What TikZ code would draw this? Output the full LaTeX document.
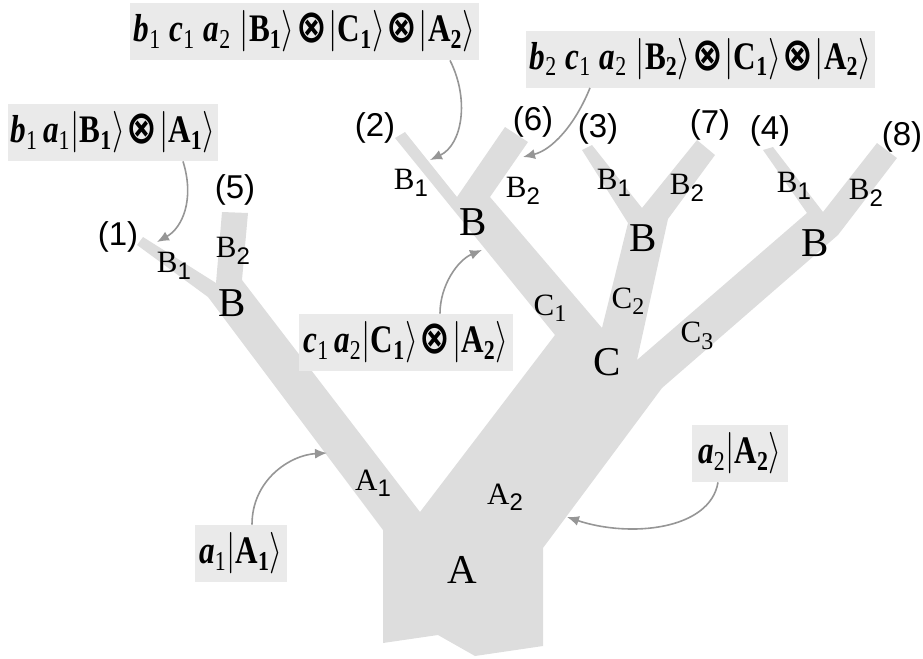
\documentclass[tikz,border=0pt]{standalone}
\usepackage{fontspec}
\usepackage{amsmath}
\usepackage{graphicx}
\setmainfont{Liberation Serif}
\newfontfamily\arialfont{Liberation Sans}
\newfontfamily\symfont{DejaVu Sans}
\usetikzlibrary{arrows.meta}

\definecolor{treegray}{RGB}{221,221,221}
\definecolor{boxgray}{RGB}{234,234,234}
\definecolor{arrowgray}{RGB}{150,150,150}

\newcommand{\amp}[2]{\textbf{\textit{#1}}\textsubscript{#2}}
\newcommand{\kt}[2]{$\lvert$\textbf{#1\textsubscript{#2}}$\rangle$}
\newcommand{\ox}{\kern1pt\raisebox{-0.5pt}{\symfont\bfseries\fontsize{23}{23}\selectfont ⊗}\kern1pt}
\newcommand{\narrow}[1]{\scalebox{0.8}[1]{#1}}
\newcommand{\lo}[1]{\raisebox{-3.2pt}{\fontsize{12}{12}\selectfont #1}}
\newcommand{\sB}[1]{B\lo{\arialfont #1}}

\begin{document}
\begin{tikzpicture}[x=0.5pt, y=-0.5pt,
    big/.style={font=\fontsize{20.5}{24}\selectfont, inner sep=0pt},
    lab/.style={font=\fontsize{15.5}{18}\selectfont, inner sep=0pt},
    num/.style={font=\arialfont\fontsize{16.5}{18}\selectfont, inner sep=0pt},
    state/.style={fill=boxgray, inner sep=0pt, minimum height=28.5pt,
        font=\fontsize{19.5}{22}\selectfont},
    pointer/.style={draw=arrowgray, line width=0.8pt,
        -{Latex[length=6pt, width=5pt]}}]
    \useasboundingbox (0,0) rectangle (923,659);
    \fill[treegray] (383,643) -- (383,530) -- (208,297) -- (137,245)
        -- (143,237) -- (216,283) -- (222,212) -- (248,213) -- (242,280)
        -- (420,512) -- (555,335) -- (395,138) -- (405,132) -- (457,197)
        -- (505,127) -- (528,142) -- (490,197) -- (602,328) -- (628,223)
        -- (582,150) -- (592,145) -- (642,208) -- (697,140) -- (715,155)
        -- (668,219) -- (637,360) -- (807,213) -- (763,150) -- (773,147)
        -- (823,212) -- (877,143) -- (897,158) -- (838,235) -- (662,388)
        -- (543,548) -- (543,646) -- (475,656) -- (438,635) -- cycle;
    \node[big] (A) at (462,570) {A};
    \node[lab] (A1) at (373,483) {A\lo{\arialfont 1}};
    \node[lab] (A2) at (505,497) {A\lo{\arialfont 2}};
    \node[big] (C) at (607,362) {C};
    \node[lab] (C1) at (550,308) {C\lo{1}};
    \node[lab] (C2) at (628,301) {C\lo{2}};
    \node[lab] (C3) at (697,336) {C\lo{3}};
    \node[big] (Bl) at (232,303) {B};
    \node[lab] (Bl1) at (174,266) {\sB{1}};
    \node[lab] (Bl2) at (233,251) {\sB{2}};
    \node[big] (Bm) at (473,222) {B};
    \node[lab] (Bm1) at (411,183) {\sB{1}};
    \node[lab] (Bm2) at (523,191) {\sB{2}};
    \node[big] (Bc) at (643,238) {B};
    \node[lab] (Bc1) at (614,183) {\sB{1}};
    \node[lab] (Bc2) at (687,188) {\sB{2}};
    \node[big] (Br) at (815,243) {B};
    \node[lab] (Br1) at (794,186) {\sB{1}};
    \node[lab] (Br2) at (866,193) {\sB{2}};
    \node[num] (n1) at (118,237) {(1)};
    \node[num] (n2) at (375,128) {(2)};
    \node[num] (n3) at (598,129) {(3)};
    \node[num] (n4) at (770,131) {(4)};
    \node[num] (n5) at (235,190) {(5)};
    \node[num] (n6) at (533,122) {(6)};
    \node[num] (n7) at (710,125) {(7)};
    \node[num] (n8) at (902,137) {(8)};
    \node[state, minimum width=105pt] (s1) at (113,132.5)
        {\narrow{\amp{b}{1}\,\amp{a}{1}\kt{B}{1}\ox\kt{A}{1}}};
    \node[state, minimum width=174.5pt] (s2) at (304.5,31.5)
        {\narrow{\amp{b}{1}\;\amp{c}{1}\;\amp{a}{2}\;\kt{B}{1}\ox\kt{C}{1}\ox\kt{A}{2}}};
    \node[state, minimum width=174.5pt] (s3) at (700.5,59)
        {\narrow{\amp{b}{2}\;\amp{c}{1}\;\amp{a}{2}\;\kt{B}{2}\ox\kt{C}{1}\ox\kt{A}{2}}};
    \node[state, minimum width=107pt] (s4) at (406,342.5)
        {\narrow{\amp{c}{1}\,\amp{a}{2}\kt{C}{1}\ox\kt{A}{2}}};
    \node[state, minimum width=46pt] (s5) at (241,553.5)
        {\narrow{\amp{a}{1}\kt{A}{1}}};
    \node[state, minimum width=48pt] (s6) at (740,453.5)
        {\narrow{\amp{a}{2}\kt{A}{2}}};
    \coordinate (t1) at (157,242);
    \coordinate (t2) at (430,160);
    \coordinate (t3) at (523,157);
    \coordinate (t4) at (482,250);
    \coordinate (t5) at (327,453);
    \coordinate (t6) at (567,517);
    \draw[pointer] ([xshift=35pt]s1.south) .. controls (195,200) and (182,228) .. (t1);
    \draw[pointer] ([xshift=72.75pt]s2.south) .. controls (470,100) and (462,145) .. (t2);
    \draw[pointer] ([xshift=-55.25pt]s3.south) .. controls (575,125) and (552,150) .. (t3);
    \draw[pointer] ([xshift=17pt]s4.north) .. controls (440,285) and (458,260) .. (t4);
    \draw[pointer] ([xshift=5.5pt]s5.north) .. controls (252,480) and (290,455) .. (t5);
    \draw[pointer] ([xshift=-11pt]s6.south) .. controls (710,530) and (630,538) .. (t6);
\end{tikzpicture}
\end{document}
